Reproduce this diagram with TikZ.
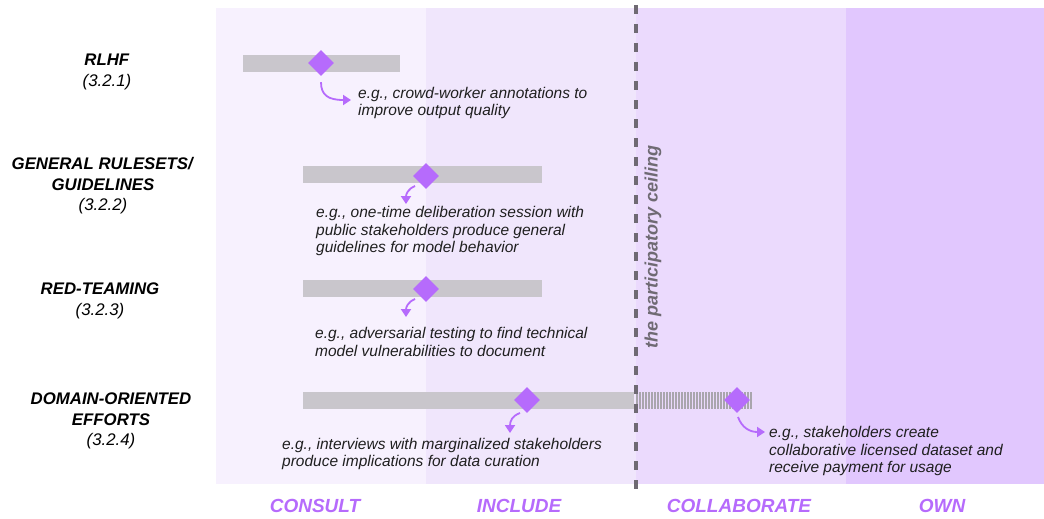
\documentclass[tikz,border=0pt]{standalone}
\usepackage{fontspec}
\setmainfont{Liberation Sans}
\usetikzlibrary{shapes.geometric,arrows.meta}
\definecolor{bgA}{HTML}{F7F1FE}
\definecolor{bgB}{HTML}{F0E6FC}
\definecolor{bgC}{HTML}{EBDAFD}
\definecolor{bgD}{HTML}{E1C7FE}
\definecolor{barc}{HTML}{C9C6CC}
\definecolor{hatchc}{HTML}{A9A5AD}
\definecolor{purp}{HTML}{B66BFC}
\definecolor{ceil}{HTML}{6F6A73}
\definecolor{txt}{HTML}{1F1F1F}
\tikzset{
  dia/.style={diamond,fill=purp,inner sep=0pt,minimum width=26pt,minimum height=26pt},
  ex/.style={anchor=west,align=left,inner sep=0pt,text=txt,font=\fontsize{15.5}{17.5}\selectfont\itshape},
  cat/.style={align=center,inner sep=0pt,text=black,font=\fontsize{16.8}{20.5}\selectfont},
  lvl/.style={inner sep=0pt,text=purp,font=\fontsize{19}{20}\selectfont\bfseries\itshape},
  bar/.style={fill=barc},
  pointer/.style={draw=purp,line width=1.8pt,-{Triangle[length=8pt,width=10pt]}},
}
\begin{document}
\begin{tikzpicture}[x=1pt,y=-1pt]
\useasboundingbox (0,0) rectangle (1044,519);
% level backgrounds
\fill[bgA] (216,8) rectangle (426,484);
\fill[bgB] (426,8) rectangle (636,484);
\fill[bgC] (636,8) rectangle (846,484);
\fill[bgD] (846,8) rectangle (1044,484);
% bars
\fill[bar] (243,55) rectangle (400,72);
\fill[bar] (303,166) rectangle (542,183);
\fill[bar] (303,280) rectangle (542,297);
\fill[bar] (303,392) rectangle (634,409);
\foreach \i in {0,...,38} {
  \fill[hatchc] ({636+3*\i},392) rectangle ({637.5+3*\i},409);
}
% ceiling
\coordinate (ctop) at (636,5);
\coordinate (cbot) at (636,494);
\draw[ceil,line width=4pt,dash pattern=on 9pt off 10pt] (ctop) -- (cbot);
\node[rotate=90,inner sep=0pt,text=ceil,font=\fontsize{18}{20}\selectfont\bfseries\itshape] (ceiltxt) at (653,247) {the participatory ceiling};
% diamonds
\node[dia] (d1) at (321,63) {};
\node[dia] (d2) at (426,176) {};
\node[dia] (d3) at (426,289) {};
\node[dia] (d4) at (527,400) {};
\node[dia] (d5) at (737,400) {};
% example texts
\node[ex] (t1) at (358,103) {e.g., crowd-worker annotations to\\improve output quality};
\node[ex] (t2) at (316,231) {e.g., one-time deliberation session with\\public stakeholders produce general\\guidelines for model behavior};
\node[ex] (t3) at (315,342) {e.g., adversarial testing to find technical\\model vulnerabilities to document};
\node[ex] (t4) at (282,454) {e.g., interviews with marginalized stakeholders\\produce implications for data curation};
\node[ex] (t5) at (769,451) {e.g., stakeholders create\\collaborative licensed dataset and\\receive payment for usage};
% pointers
\coordinate (a1) at (351,100);
\coordinate (a2) at (406,204);
\coordinate (a3) at (406,317);
\coordinate (a4) at (510,433);
\coordinate (a5) at (765,432);
\draw[pointer] ([yshift=-6pt]d1.south) .. controls (321,95) and (328,100) .. (a1);
\draw[pointer] ([xshift=-11pt,yshift=-10pt]d2.center) .. controls (408,189) and (406,194) .. (a2);
\draw[pointer] ([xshift=-11pt,yshift=-10pt]d3.center) .. controls (408,302) and (406,307) .. (a3);
\draw[pointer] ([xshift=-7pt,yshift=-13pt]d4.center) .. controls (512,416) and (510,421) .. (a4);
\draw[pointer] ([xshift=1pt,yshift=-17pt]d5.center) .. controls (742,428) and (750,432) .. (a5);
% category labels
\node[cat] (c1) at (107,72) {\textbf{\textit{RLHF}}\\\textit{(3.2.1)}};
\node[cat] (c2) at (103,186) {\textbf{\textit{GENERAL RULESETS/}}\\\textbf{\textit{GUIDELINES}}\\\textit{(3.2.2)}};
\node[cat] (c3) at (100,301) {\textbf{\textit{RED-TEAMING}}\\\textit{(3.2.3)}};
\node[cat] (c4) at (111,421) {\textbf{\textit{DOMAIN-ORIENTED}}\\\textbf{\textit{EFFORTS}}\\\textit{(3.2.4)}};
% level labels
\node[lvl] (l1) at (315,506) {CONSULT};
\node[lvl] (l2) at (519,506) {INCLUDE};
\node[lvl] (l3) at (739,506) {COLLABORATE};
\node[lvl] (l4) at (942,506) {OWN};
\end{tikzpicture}
\end{document}
